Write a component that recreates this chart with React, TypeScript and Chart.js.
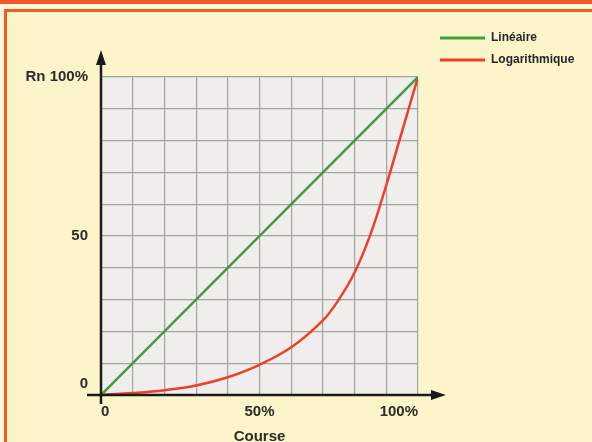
import React, { useEffect, useRef } from 'react';
import { Chart, registerables } from 'chart.js';

Chart.register(...registerables);

// ---- data ----
const seriesNames = ['Linéaire', 'Logarithmique'];
const courseLin = [0, 100];
const rnLin = [0, 100];
const courseLog = [0, 10, 20, 30, 40, 50, 60, 70, 75, 80, 85, 90, 95, 100];
const rnLog = [0, 0.6, 1.5, 3, 5.6, 9.5, 15, 23.5, 30, 38.5, 50.5, 66, 83, 100];
const xTickValues = [0, 50, 100];
const xTickLabels = ['0', '50%', '100%'];
const yTickValues = [0, 50, 100];
const yTickLabels = ['0', '50', 'Rn 100%'];
const xTitle = 'Course';

// ---- styles ----
const FONT = '"Liberation Sans", Arial, Helvetica, sans-serif';
const TEXT = '#2c2c2c';
const GREEN = '#3c9f3c';
const RED = '#ef3f28';
const ORANGE = '#f05a24';
const BG = '#fcf5c9';
const PLOT_BG = '#f0eded';
const GRID = '#a3a3a3';
const LEGEND_W = 162;

const pageDecor = {
  id: 'pageDecor',
  beforeDraw(chart: any) {
    const { ctx, width, height, chartArea: a } = chart;
    ctx.save();
    ctx.fillStyle = '#fdf8dc';
    ctx.fillRect(0, 0, width, height);
    ctx.fillStyle = BG;
    ctx.fillRect(7, 12, width - 7, height - 12);
    ctx.fillStyle = ORANGE;
    ctx.fillRect(0, 0, width, 4);
    ctx.fillRect(4, 9, width - 4, 3);
    ctx.fillRect(4, 9, 3, height - 9);
    ctx.fillStyle = PLOT_BG;
    ctx.fillRect(a.left, a.top, a.right - a.left, a.bottom - a.top);
    ctx.restore();
  },
};

const legendWidth = {
  id: 'legendWidth',
  beforeLayout(chart: any) {
    const lg = chart.legend;
    if (lg && !lg.__fixedWidth) {
      const orig = lg.fit;
      lg.fit = function (this: any) {
        orig.call(this);
        this.width = LEGEND_W;
      };
      lg.__fixedWidth = true;
    }
  },
};

const blackAxes = {
  id: 'blackAxes',
  afterDraw(chart: any) {
    const { ctx, chartArea: a, scales } = chart;
    const ox = scales.x.getPixelForValue(0);
    const oy = scales.y.getPixelForValue(0);
    ctx.save();
    ctx.strokeStyle = '#1b1b1b';
    ctx.fillStyle = '#1b1b1b';
    ctx.lineWidth = 2.5;
    const yTip = a.top - 27;
    ctx.beginPath();
    ctx.moveTo(ox, oy + 9);
    ctx.lineTo(ox, yTip + 10);
    ctx.stroke();
    ctx.beginPath();
    ctx.moveTo(ox, yTip);
    ctx.lineTo(ox - 5, yTip + 15);
    ctx.lineTo(ox + 5, yTip + 15);
    ctx.closePath();
    ctx.fill();
    const xTip = a.right + 28;
    ctx.beginPath();
    ctx.moveTo(ox - 14, oy);
    ctx.lineTo(xTip - 10, oy);
    ctx.stroke();
    ctx.beginPath();
    ctx.moveTo(xTip, oy);
    ctx.lineTo(xTip - 15, oy - 5);
    ctx.lineTo(xTip - 15, oy + 5);
    ctx.closePath();
    ctx.fill();
    ctx.restore();
  },
};

function labelFor(values: number[], labels: string[], v: number) {
  const i = values.indexOf(Math.round(v));
  return i >= 0 ? labels[i] : '';
}

export default function App() {
  const ref = useRef<HTMLCanvasElement | null>(null);

  useEffect(() => {
    if (!ref.current) return;
    const tickFont = { family: FONT, size: 15, weight: 'bold' as const };
    const chart = new Chart(ref.current, {
      type: 'line',
      data: {
        datasets: [
          {
            label: seriesNames[0],
            data: courseLin.map((x, i) => ({ x, y: rnLin[i] })),
            borderColor: GREEN,
            backgroundColor: GREEN,
            borderWidth: 2.5,
            pointRadius: 0,
          },
          {
            label: seriesNames[1],
            data: courseLog.map((x, i) => ({ x, y: rnLog[i] })),
            borderColor: RED,
            backgroundColor: RED,
            borderWidth: 2.5,
            pointRadius: 0,
            tension: 0.4,
          },
        ],
      },
      options: {
        animation: false,
        responsive: false,
        devicePixelRatio: 1,
        layout: { padding: { top: 22, right: 0, bottom: 0, left: 0 } },
        plugins: {
          tooltip: { enabled: false },
          legend: {
            display: true,
            position: 'right',
            align: 'start',
            labels: {
              boxWidth: 45,
              boxHeight: 3,
              padding: 10,
              color: '#26262e',
              font: { family: FONT, size: 12, weight: 'bold' },
              generateLabels: (c: any) =>
                Chart.defaults.plugins.legend.labels
                  .generateLabels(c)
                  .map((l: any) => ({ ...l, lineWidth: 0, fillStyle: l.strokeStyle })),
            },
          },
        },
        scales: {
          x: {
            type: 'linear',
            position: 'bottom',
            min: 0,
            max: 100,
            grid: { color: GRID, lineWidth: 1.2, drawTicks: false },
            border: { display: false },
            ticks: {
              stepSize: 10,
              autoSkip: false,
              maxRotation: 0,
              align: 'inner',
              padding: 8,
              color: TEXT,
              font: tickFont,
              callback: (v: any) => labelFor(xTickValues, xTickLabels, Number(v)),
            },
            title: {
              display: true,
              text: xTitle,
              color: TEXT,
              font: tickFont,
              padding: { top: 0, bottom: -4 },
            },
            afterFit: (s: any) => {
              s.height = 47;
            },
          },
          y: {
            type: 'linear',
            position: 'left',
            min: 0,
            max: 100,
            grid: { color: GRID, lineWidth: 1.2, drawTicks: false },
            border: { display: false },
            ticks: {
              stepSize: 10,
              autoSkip: false,
              padding: 13,
              color: TEXT,
              font: { ...tickFont, lineHeight: '23px' },
              callback: (v: any) => {
                const t = labelFor(yTickValues, yTickLabels, Number(v));
                return Number(v) === 0 ? [t, ''] : t;
              },
            },
            afterFit: (s: any) => {
              s.width = 101;
            },
          },
          xTop: {
            type: 'linear',
            axis: 'x',
            position: 'top',
            display: true,
            grid: { display: false, drawTicks: false },
            border: { display: false },
            ticks: { display: false },
            afterFit: (s: any) => {
              s.height = 55;
            },
          },
          yRight: {
            type: 'linear',
            axis: 'y',
            position: 'right',
            display: true,
            grid: { display: false, drawTicks: false },
            border: { display: false },
            ticks: { display: false },
            afterFit: (s: any) => {
              s.width = 12;
            },
          },
        },
      } as any,
      plugins: [pageDecor, legendWidth, blackAxes],
    });
    return () => chart.destroy();
  }, []);

  return (
    <div style={{ position: 'absolute', left: 0, top: 0, width: 592, height: 442 }}>
      <canvas ref={ref} width={592} height={442} style={{ display: 'block' }} />
    </div>
  );
}
